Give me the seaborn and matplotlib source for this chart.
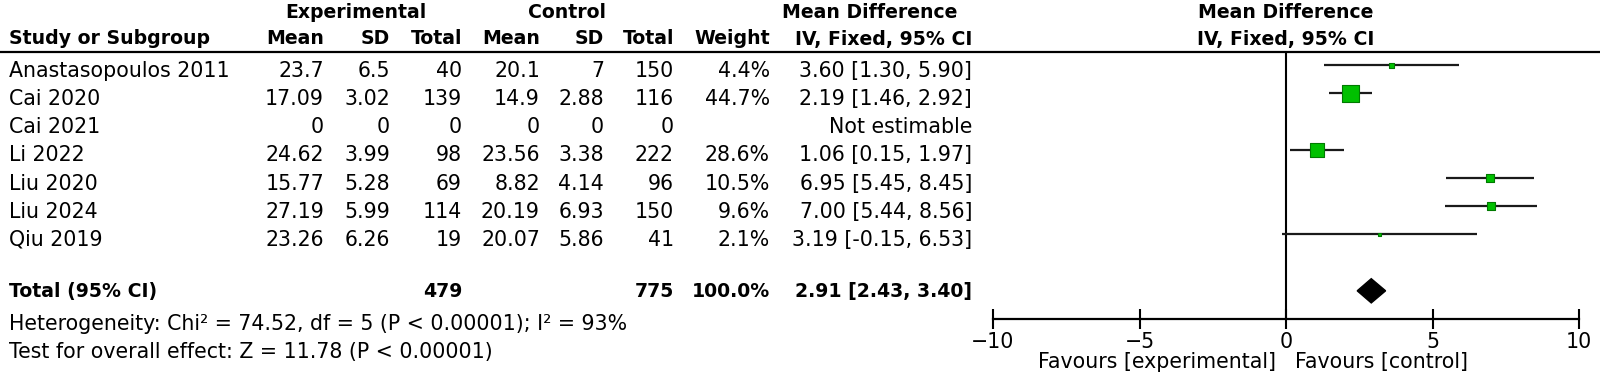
import numpy as np
import pandas as pd
import matplotlib
matplotlib.use("Agg")
import matplotlib.pyplot as plt
import matplotlib.transforms as mtransforms
from matplotlib.lines import Line2D
import seaborn as sns

# table values
studies = ["Anastasopoulos 2011", "Cai 2020", "Cai 2021", "Li 2022", "Liu 2020", "Liu 2024", "Qiu 2019"]
exp_mean = ["23.7", "17.09", "0", "24.62", "15.77", "27.19", "23.26"]
exp_sd = ["6.5", "3.02", "0", "3.99", "5.28", "5.99", "6.26"]
exp_total = [40, 139, 0, 98, 69, 114, 19]
ctl_mean = ["20.1", "14.9", "0", "23.56", "8.82", "20.19", "20.07"]
ctl_sd = ["7", "2.88", "0", "3.38", "4.14", "6.93", "5.86"]
ctl_total = [150, 116, 0, 222, 96, 150, 41]
weight = [4.4, 44.7, np.nan, 28.6, 10.5, 9.6, 2.1]
md = [3.60, 2.19, np.nan, 1.06, 6.95, 7.00, 3.19]
ci_low = [1.30, 1.46, np.nan, 0.15, 5.45, 5.44, -0.15]
ci_high = [5.90, 2.92, np.nan, 1.97, 8.45, 8.56, 6.53]

total_exp, total_ctl = 479, 775
total_weight = 100.0
total_md, total_low, total_high = 2.91, 2.43, 3.40
heterogeneity = "Heterogeneity: Chi² = 74.52, df = 5 (P < 0.00001); I² = 93%"
overall = "Test for overall effect: Z = 11.78 (P < 0.00001)"
x_ticks = [-10, -5, 0, 5, 10]

sns.set_theme(style="white")
plt.rcParams["font.family"] = ["DejaVu Sans"]
FS = 14.8
FS_BOLD = 13.6

W, H = 1600, 372
fig = plt.figure(figsize=(16, 3.72), dpi=100)
ax = fig.add_axes([993 / W, 1 - 319 / H, 586 / W, 267 / H])
ax.set_facecolor("none")

df = pd.DataFrame({"study": studies, "md": md, "lo": ci_low, "hi": ci_high,
                   "weight": weight, "row": np.arange(len(studies))})
plot_df = df.dropna()
total_row = len(studies) + 1

ax.hlines(plot_df["row"], plot_df["lo"], plot_df["hi"], color="#1a1a1a", lw=1.6, zorder=2)
sns.scatterplot(data=plot_df, x="md", y="row", size="weight", sizes=(7, 145),
                size_norm=(2.1, 44.7), marker="s", color="#00c000", edgecolor="#007a00",
                linewidth=0.8, legend=False, ax=ax, zorder=3)
dh = 0.43
ax.fill([total_low, total_md, total_high, total_md],
        [total_row, total_row - dh, total_row, total_row + dh], color="black", zorder=3)
ax.axvline(0, color="black", lw=1.5, zorder=1)

ax.set_xlim(-10, 10)
ax.set_ylim(9.0, -0.47)
ax.set_xticks(x_ticks)
ax.set_xticklabels([str(t).replace("-", "\u2212") for t in x_ticks])
ax.set_yticks([])
ax.set_xlabel("")
ax.set_ylabel("")
ax.tick_params(axis="x", direction="inout", length=14, width=1.5, pad=2,
               labelsize=FS, colors="black", bottom=True)
sns.despine(ax=ax, left=True)
ax.spines["bottom"].set_linewidth(1.6)
ax.spines["bottom"].set_color("black")

# text placement helpers (figure pixels from top-left)
fig_px = mtransforms.Affine2D().scale(1 / W, -1 / H).translate(0, 1) + fig.transFigure
row_tr = mtransforms.blended_transform_factory(fig_px, ax.transData)
plot_x_tr = mtransforms.blended_transform_factory(ax.transData, fig_px)

col_right = [324, 390, 462, 540, 604, 674, 770, 972]


def put(x, y, s, tr, ha="right", bold=False):
    ax.text(x, y, s, transform=tr, ha=ha, va="baseline",
            fontsize=FS_BOLD if bold else FS,
            fontweight="bold" if bold else "normal", color="black", clip_on=False)


# headers
put(356, 17.5, "Experimental", fig_px, ha="center", bold=True)
put(567, 17.5, "Control", fig_px, ha="center", bold=True)
put(870, 17.5, "Mean Difference", fig_px, ha="center", bold=True)
put(0, 17.5, "Mean Difference", plot_x_tr, ha="center", bold=True)
put(9, 44.5, "Study or Subgroup", fig_px, ha="left", bold=True)
for x, s in zip(col_right, ["Mean", "SD", "Total", "Mean", "SD", "Total", "Weight", "IV, Fixed, 95% CI"]):
    put(x, 44.5, s, fig_px, bold=True)
put(0, 44.5, "IV, Fixed, 95% CI", plot_x_tr, ha="center", bold=True)
fig.add_artist(Line2D([0, 1], [1 - 52 / H] * 2, transform=fig.transFigure, color="black", lw=1.6))

# study rows
for i, name in enumerate(studies):
    y = i + 0.41
    put(9, y, name, row_tr, ha="left")
    cells = [exp_mean[i], exp_sd[i], str(exp_total[i]), ctl_mean[i], ctl_sd[i], str(ctl_total[i])]
    for x, s in zip(col_right[:6], cells):
        put(x, y, s, row_tr)
    if np.isnan(md[i]):
        put(col_right[7], y, "Not estimable", row_tr)
    else:
        put(col_right[6], y, f"{weight[i]:.1f}%", row_tr)
        put(col_right[7], y, f"{md[i]:.2f} [{ci_low[i]:.2f}, {ci_high[i]:.2f}]", row_tr)

# total row
yt = total_row + 0.21
put(9, yt, "Total (95% CI)", row_tr, ha="left", bold=True)
put(col_right[2], yt, str(total_exp), row_tr, bold=True)
put(col_right[5], yt, str(total_ctl), row_tr, bold=True)
put(col_right[6], yt, f"{total_weight:.1f}%", row_tr, bold=True)
put(col_right[7], yt, f"{total_md:.2f} [{total_low:.2f}, {total_high:.2f}]", row_tr, bold=True)

put(9, 330, heterogeneity, fig_px, ha="left")
put(9, 358, overall, fig_px, ha="left")

ax.annotate("Favours [experimental]", xy=(0, 0), xycoords=("data", "axes fraction"),
            xytext=(-7.5, -35.5), textcoords="offset points", ha="right", va="baseline",
            fontsize=FS, color="black", annotation_clip=False)
ax.annotate("Favours [control]", xy=(0, 0), xycoords=("data", "axes fraction"),
            xytext=(6.5, -35.5), textcoords="offset points", ha="left", va="baseline",
            fontsize=FS, color="black", annotation_clip=False)

fig.savefig("out.png", dpi=100)
